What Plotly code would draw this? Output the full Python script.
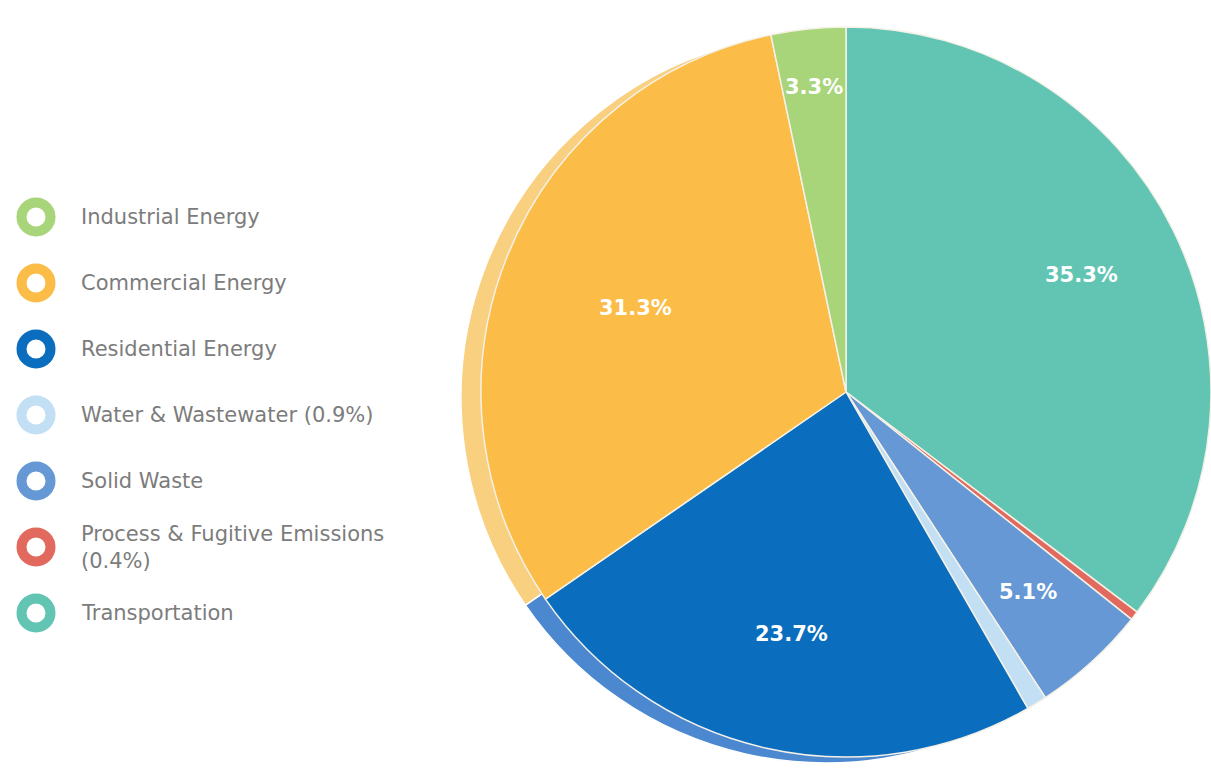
import math
import plotly.graph_objects as go

# ---------------- data ----------------
categories = ["Industrial Energy", "Commercial Energy", "Residential Energy",
              "Water & Wastewater", "Solid Waste", "Process & Fugitive Emissions",
              "Transportation"]
shares = [3.3, 31.3, 23.7, 0.9, 5.1, 0.4, 35.3]
show_label = [True, True, True, False, True, False, True]
legend_text = ["Industrial Energy", "Commercial Energy", "Residential Energy",
               "Water & Wastewater (0.9%)", "Solid Waste",
               "Process & Fugitive Emissions<br>(0.4%)", "Transportation"]

# ---------------- style ----------------
colors = ["#A8D47A", "#FBBD48", "#0A6DBE", "#C3DFF4", "#6598D4", "#E2695D", "#62C5B4"]
rim_colors = ["#C2E09E", "#F9CF80", "#4C88D0", "#D6E9F8", "#8CB2DE", "#EA9189", "#8ED6CA"]
label_frac = [0.84, 0.62, 0.68, 0.7, 0.74, 0.7, 0.72]   # radial position of % labels

W, H = 1211, 770
CX, CY, R = 846, 392, 365          # pixel centre / radius of the pie
RIM_DX, RIM_DY = -20, 6            # offset of the pseudo-3D rim

def domain(cx, cy, r):
    x0 = max((cx - r) / W, 0)
    x1 = min((cx + r) / W, 1)
    yc = (H - cy) / H
    return dict(x=[x0, x1], y=[yc - r / H, yc + r / H])

# plotly pie draws clockwise from 12 o'clock in the given order -> reverse so
# Transportation starts at the top going clockwise
order = list(range(len(shares)))[::-1]

fig = go.Figure()

# rim (drawn behind)
fig.add_trace(go.Pie(
    values=[shares[i] for i in order], labels=[categories[i] for i in order],
    marker=dict(colors=[rim_colors[i] for i in order], line=dict(color="white", width=1.5)),
    sort=False, direction="clockwise", rotation=0, textinfo="none",
    domain=domain(CX + RIM_DX, CY + RIM_DY, R), showlegend=False, hoverinfo="skip"))

# main pie
fig.add_trace(go.Pie(
    values=[shares[i] for i in order], labels=[categories[i] for i in order],
    marker=dict(colors=[colors[i] for i in order], line=dict(color="#F4F1E6", width=1.5)),
    sort=False, direction="clockwise", rotation=0, textinfo="none",
    domain=domain(CX, CY, R), showlegend=False))

# percentage labels placed at the mid-angle of each slice
total = sum(shares)
cum = 0.0
annotations = []
for i in order:
    v = shares[i]
    mid = (cum + v / 2) / total * 2 * math.pi
    cum += v
    if not show_label[i]:
        continue
    frac = label_frac[i]
    px = CX + frac * R * math.sin(mid)
    py = CY - frac * R * math.cos(mid)
    annotations.append(dict(
        x=px / W, y=(H - py) / H, xref="paper", yref="paper",
        xanchor="center", yanchor="middle",
        text=f"{v:.1f}%", showarrow=False,
        font=dict(family="DejaVu Sans", size=21, color="white", weight="bold")))

# legend rings + labels
LEG_X, LEG_TEXT_X = 36, 79
leg_y = [217, 283, 349, 415, 481, 547, 613]
fig.add_trace(go.Scatter(
    x=[LEG_X] * len(categories), y=leg_y, mode="markers",
    marker=dict(symbol="circle-open", size=29, color=colors, line=dict(width=10, color=colors)),
    showlegend=False, hoverinfo="skip", xaxis="x", yaxis="y"))
for t, y in zip(legend_text, leg_y):
    annotations.append(dict(
        x=LEG_TEXT_X, y=y, xref="x", yref="y", xanchor="left", yanchor="middle",
        text=t, showarrow=False, align="left",
        font=dict(family="DejaVu Sans", size=21, color="#7C7C7C")))

fig.update_layout(
    width=W, height=H, margin=dict(l=0, r=0, t=0, b=0),
    paper_bgcolor="white", plot_bgcolor="rgba(0,0,0,0)",
    xaxis=dict(range=[0, W], visible=False, domain=[0, 1], fixedrange=True),
    yaxis=dict(range=[H, 0], visible=False, domain=[0, 1], fixedrange=True),
    annotations=annotations, showlegend=False)

fig.write_html("out.html", config={"displayModeBar": False},
               post_script="document.body.style.margin='0';document.body.style.overflow='hidden';")
